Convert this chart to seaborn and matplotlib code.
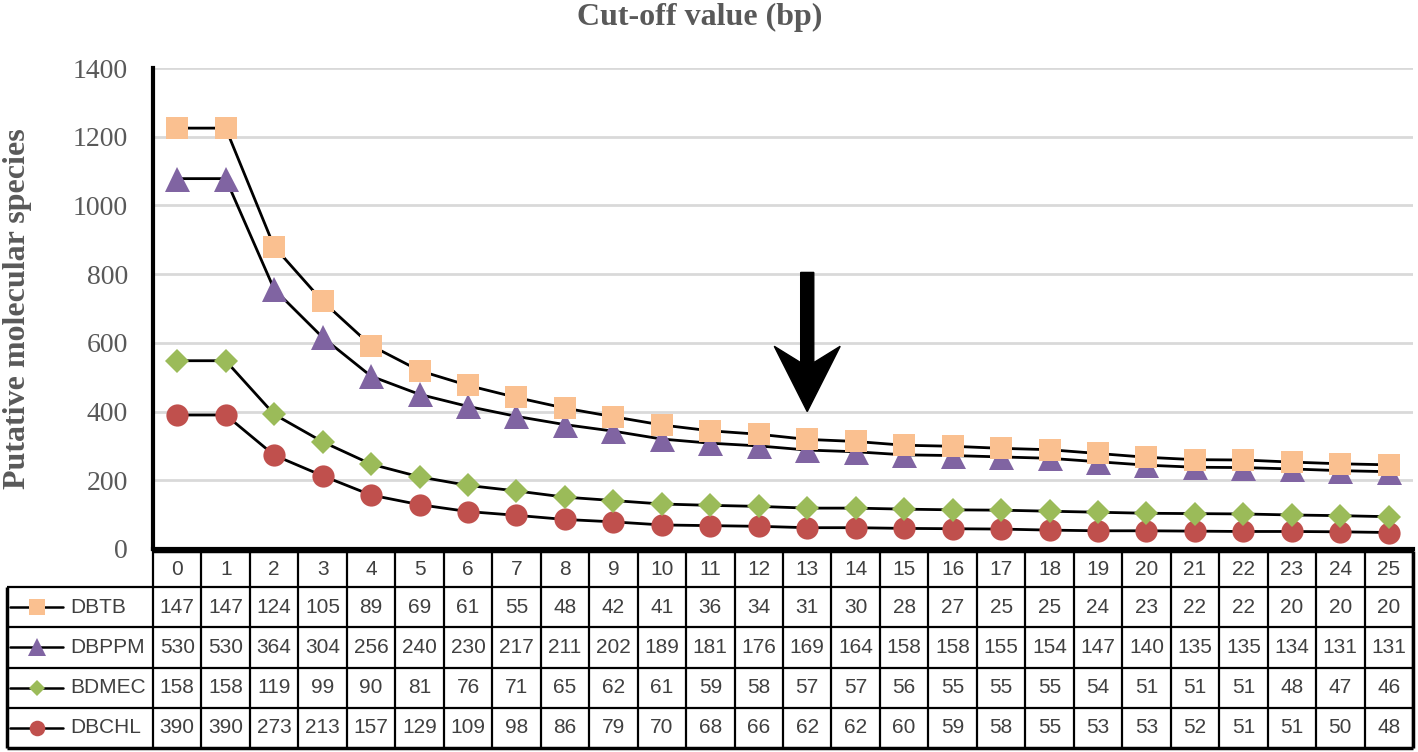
import numpy as np
import pandas as pd
import matplotlib
matplotlib.use("Agg")
import matplotlib.pyplot as plt
import seaborn as sns

sns.set_theme(style="white")
plt.rcParams['font.family'] = ['Liberation Serif', 'DejaVu Serif']

# cut-off values (bp) and the counts shown in the data table
cutoff = list(range(26))
dbtb = [147, 147, 124, 105, 89, 69, 61, 55, 48, 42, 41, 36, 34, 31, 30, 28, 27, 25, 25, 24, 23, 22, 22, 20, 20, 20]
dbppm = [530, 530, 364, 304, 256, 240, 230, 217, 211, 202, 189, 181, 176, 169, 164, 158, 158, 155, 154, 147, 140, 135, 135, 134, 131, 131]
bdmec = [158, 158, 119, 99, 90, 81, 76, 71, 65, 62, 61, 59, 58, 57, 57, 56, 55, 55, 55, 54, 51, 51, 51, 48, 47, 46]
dbchl = [390, 390, 273, 213, 157, 129, 109, 98, 86, 79, 70, 68, 66, 62, 62, 60, 59, 58, 55, 53, 53, 52, 51, 51, 50, 48]

# stacked line chart: bottom series first
series = ["DBCHL", "BDMEC", "DBPPM", "DBTB"]
values = {"DBCHL": dbchl, "BDMEC": bdmec, "DBPPM": dbppm, "DBTB": dbtb}
colors = {"DBTB": "#FAC090", "DBPPM": "#8064A2", "BDMEC": "#9BBB59", "DBCHL": "#C0504D"}
markers = {"DBTB": "s", "DBPPM": "^", "BDMEC": "D", "DBCHL": "o"}
msizes = {"DBTB": 16, "DBPPM": 18, "BDMEC": 12, "DBCHL": 16}
table_order = ["DBTB", "DBPPM", "BDMEC", "DBCHL"]

W, H = 1418, 752
fig = plt.figure(figsize=(W / 100, H / 100), dpi=100)
ax = fig.add_axes([153 / W, 1 - 549 / H, (1413 - 153) / W, (549 - 68) / H])

stack = np.zeros(len(cutoff))
for name in series:
    stack = stack + np.array(values[name])
    df = pd.DataFrame({"x": cutoff, "y": stack})
    sns.lineplot(data=df, x="x", y="y", ax=ax, color="black", lw=2,
                 marker=markers[name], markersize=msizes[name],
                 markerfacecolor=colors[name], markeredgecolor=colors[name],
                 markeredgewidth=0, clip_on=False, zorder=3)

ax.set_xlim(-0.5, 25.5)
ax.set_ylim(0, 1400)
ax.set_yticks(range(0, 1401, 200))
ax.set_xticks([])
ax.set_xlabel("")
ax.set_ylabel("Putative molecular species", fontsize=23, fontweight="bold",
              color="#595959")
ax.yaxis.set_label_coords((32 - 153) / 1260, 0.5)
ax.yaxis.grid(True, color="#D9D9D9", lw=2)
ax.tick_params(axis="y", labelsize=20, labelcolor="#595959", length=0, pad=18)
for s in ["top", "right"]:
    ax.spines[s].set_visible(False)
ax.spines["left"].set_linewidth(3)
ax.spines["left"].set_color("black")
ax.spines["bottom"].set_linewidth(3)
ax.spines["bottom"].set_color("black")

ax.arrow(13, 805, 0, -405, width=0.27, head_width=1.36, head_length=190,
         length_includes_head=True, overhang=0.25, fc="black", ec="black", zorder=5)

fig.text(700 / W, 1 - 17 / H, "Cut-off value (bp)", ha="center", va="center",
         fontsize=23, fontweight="bold", color="#595959")

# data table below the chart
tx = fig.add_axes([7 / W, 1 - 748 / H, (1413 - 7) / W, (748 - 551) / H])
col_w = (1413 - 153) / 26
left_w = (153 - 7) / col_w
x0 = -0.5 - left_w
tx.set_xlim(x0, 25.5)
row_h = [36, 40, 40, 40, 40]
bounds = np.concatenate([[0], np.cumsum(row_h)])
tx.set_ylim(bounds[-1], 0)
tx.axis("off")

sans = ["Liberation Sans", "DejaVu Sans"]
tcol = "#404040"
# header numbers
for i, c in enumerate(cutoff):
    tx.text(i, (bounds[0] + bounds[1]) / 2, str(c), ha="center", va="center",
            fontsize=15, color=tcol, family=sans)
for r, name in enumerate(table_order):
    yc = (bounds[r + 1] + bounds[r + 2]) / 2
    for i, v in enumerate(values[name]):
        tx.text(i, yc, str(v), ha="center", va="center", fontsize=15,
                color=tcol, family=sans)
    lx0 = x0 + 3 / col_w
    lx1 = x0 + 56 / col_w
    tx.plot([lx0, lx1], [yc, yc], color="black", lw=1.8, clip_on=False)
    tx.plot([(lx0 + lx1) / 2], [yc], marker=markers[name], ms=msizes[name] * 0.7,
            color=colors[name], mew=0, clip_on=False)
    tx.text(x0 + 63 / col_w, yc, name, ha="left", va="center", fontsize=15,
            color=tcol, family=sans)

# grid lines of the table
xs = np.arange(-0.5, 26, 1)
tx.vlines(xs, bounds[0], bounds[-1], color="black", lw=1.6, clip_on=False)
tx.vlines([x0], bounds[1], bounds[-1], color="black", lw=2.5, clip_on=False)
tx.vlines([25.5], bounds[0], bounds[-1], color="black", lw=2.5, clip_on=False)
tx.hlines(bounds[1:-1], x0, 25.5, color="black", lw=1.6, clip_on=False)
tx.hlines([bounds[-1]], x0, 25.5, color="black", lw=2.5, clip_on=False)
tx.hlines([bounds[0]], -0.5, 25.5, color="black", lw=2.5, clip_on=False)

fig.savefig("out.png", dpi=100)
